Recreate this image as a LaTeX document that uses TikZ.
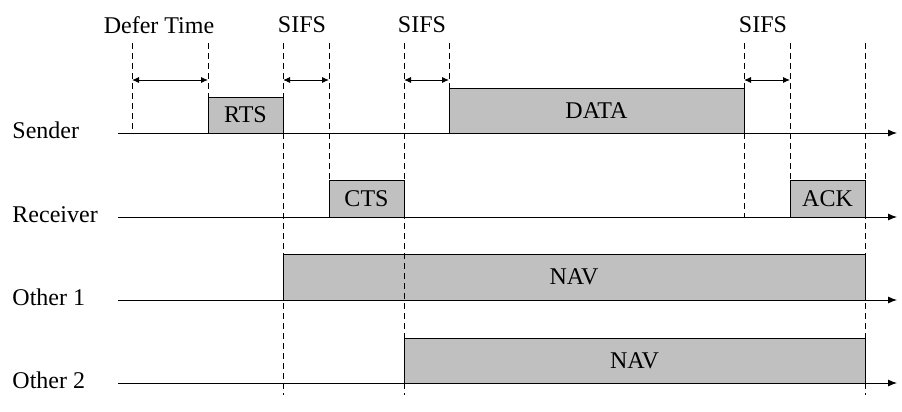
\documentclass[tikz,border=0pt]{standalone}
\usepackage{fontspec}
\setmainfont{Liberation Serif}
\usetikzlibrary{arrows.meta}
\definecolor{balkengrau}{RGB}{192,192,192}
\tikzset{
  balken/.style={draw, fill=balkengrau, line width=0.9pt},
  hilfslinie/.style={dash pattern=on 6pt off 4pt, line width=0.9pt},
  achse/.style={-{Latex[length=9pt, width=7pt]}},
  abstand/.style={{Latex[length=7pt, width=6pt]}-{Latex[length=7pt, width=6pt]}},
}
\begin{document}
\begin{tikzpicture}[x=1pt, y=-1pt, line width=0.9pt, font=\fontsize{24}{28}\selectfont]
        \useasboundingbox (0,0) rectangle (902,412);
            % Achsen
        \def\startx{118}
        \def\endx{897}
        \foreach \name/\lab/\y in {sender/Sender/133, receiver/Receiver/217, other1/Other 1/300, other2/Other 2/383}{
            \node[anchor=base west, inner sep=0] (\name) at (12, \y+5) {\lab};
            \draw[achse] (\startx, \y) -- (\endx, \y);
        }

        % Rahmen
        \draw[balken] (208, 97) rectangle (283, 133) node[midway] (rts) {RTS};
        \draw[balken] (449, 88) rectangle (744, 133) node[midway] (data) {DATA};
        \draw[balken] (329, 180) rectangle (404, 217) node[midway] (cts) {CTS};
        \draw[balken] (790, 180) rectangle (865, 217) node[midway] (ack) {ACK};
        \draw[balken] (283, 254) rectangle (865, 300) node[midway] (nav1) {NAV};
        \draw[balken] (404, 338) rectangle (865, 383) node[midway] (nav2) {NAV};

        % Hilfslinien
        \def\oben{43}
        \foreach \x/\unten in {132/133, 208/133, 283/395, 329/217, 404/395, 449/133, 744/217, 790/217, 865/395}
            \draw[hilfslinie] (\x, \oben) -- (\x, \unten);

        % Abstaende
        \def\ypos{80}
        \foreach \a/\b in {132/208, 283/329, 404/449, 744/790}
            \draw[abstand] (\a, \ypos) -- (\b, \ypos);

        % Beschriftung
        \node (defer) at (159, 25) {Defer Time};
        \node (sifs1) at (302, 25) {SIFS};
        \node (sifs2) at (422, 25) {SIFS};
        \node (sifs3) at (763, 25) {SIFS};
    \end{tikzpicture}
\end{document}
